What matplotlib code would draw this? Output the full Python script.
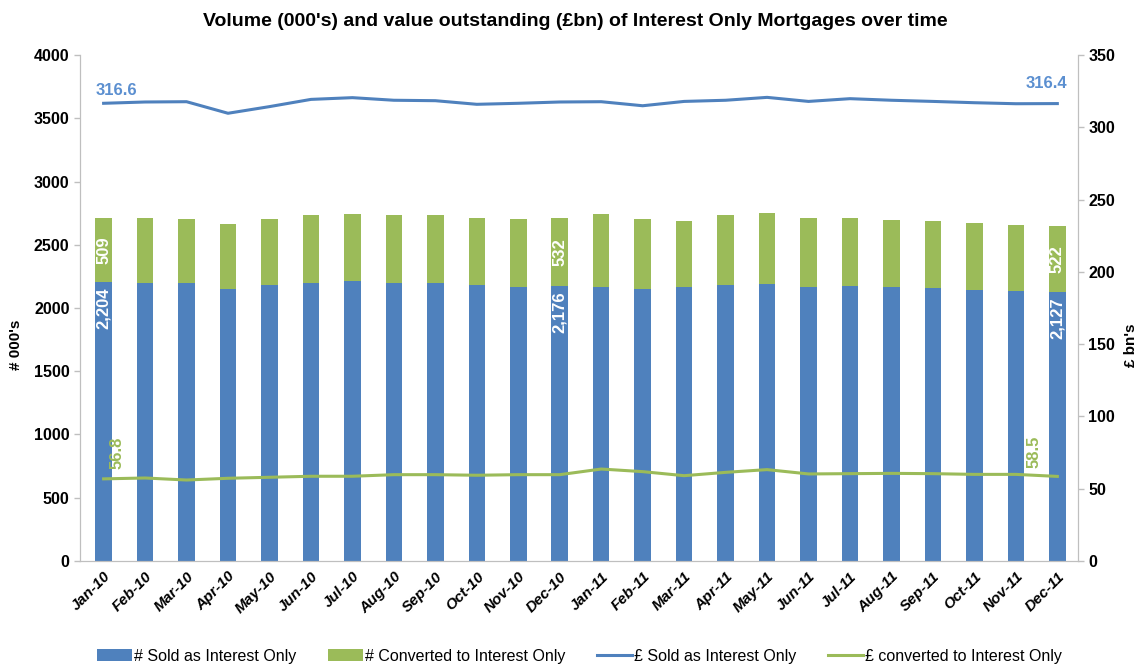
import numpy as np
import matplotlib
matplotlib.use('Agg')
import matplotlib.pyplot as plt

plt.rcParams['font.family'] = ['Liberation Sans', 'DejaVu Sans']

## datos
meses = ['Jan-10', 'Feb-10', 'Mar-10', 'Apr-10', 'May-10', 'Jun-10', 'Jul-10', 'Aug-10',
         'Sep-10', 'Oct-10', 'Nov-10', 'Dec-10', 'Jan-11', 'Feb-11', 'Mar-11', 'Apr-11',
         'May-11', 'Jun-11', 'Jul-11', 'Aug-11', 'Sep-11', 'Oct-11', 'Nov-11', 'Dec-11']
vendidos = [2204, 2200, 2200, 2148, 2182, 2200, 2216, 2200, 2195, 2182, 2169, 2176,
            2169, 2153, 2166, 2179, 2187, 2166, 2171, 2166, 2158, 2142, 2134, 2127]
convertidos = [509, 514, 506, 519, 519, 535, 527, 535, 540, 532, 535, 532,
               571, 553, 524, 554, 561, 548, 543, 532, 532, 527, 522, 522]
valor_vendidos = [316.6, 317.5, 317.7, 309.7, 314.3, 319.3, 320.5, 318.7, 318.4, 315.9, 316.6, 317.5,
                  317.7, 314.9, 317.9, 318.7, 320.7, 317.9, 319.8, 318.7, 317.9, 317.0, 316.3, 316.4]
valor_convertidos = [56.8, 57.4, 56.0, 57.2, 57.9, 58.6, 58.6, 59.7, 59.7, 59.3, 59.7, 59.7,
                     63.6, 61.8, 59.0, 61.3, 63.2, 60.2, 60.4, 60.6, 60.4, 59.9, 59.9, 58.5]

azul = '#4F81BD'
verde = '#9BBB59'
gris = '#BFBFBF'

x = np.arange(len(meses))

fig = plt.figure(figsize=(11.36, 6.66), dpi=100)
ax = fig.add_axes([0.0704, 0.1577, 0.8786, 0.7597])
ax2 = ax.twinx()

## barras apiladas
ax.bar(x, vendidos, width=0.4, color=azul, label='# Sold as Interest Only', zorder=2)
ax.bar(x, convertidos, width=0.4, bottom=vendidos, color=verde,
       label='# Converted to Interest Only', zorder=2)

## etiquetas dentro de las barras
for i in [0, 11, 23]:
    ax.annotate(f'{vendidos[i]:,}', (x[i], vendidos[i]), xytext=(0, -4), textcoords='offset points',
                rotation=90, ha='center', va='top', color='white', fontsize=12, fontweight='bold')
    ax.text(x[i], vendidos[i] + convertidos[i] / 2, str(convertidos[i]), rotation=90,
            ha='center', va='center', color='white', fontsize=12, fontweight='bold')

## lineas en el eje derecho
ax2.plot(x, valor_vendidos, color=azul, lw=2.2, label='£ Sold as Interest Only')
ax2.plot(x, valor_convertidos, color=verde, lw=2.2, label='£ converted to Interest Only')

ax2.annotate(f'{valor_vendidos[0]}', (x[0], valor_vendidos[0]), xytext=(-6, 4),
             textcoords='offset points', ha='left', va='bottom', color='#5B8FD0',
             fontsize=12, fontweight='bold')
ax2.annotate(f'{valor_vendidos[-1]}', (x[-1], valor_vendidos[-1]), xytext=(-8, 9),
             textcoords='offset points', ha='center', va='bottom', color='#5B8FD0',
             fontsize=12, fontweight='bold')
ax2.annotate(f'{valor_convertidos[0]}', (x[0], valor_convertidos[0]), xytext=(10, 7),
             textcoords='offset points', ha='center', va='bottom', rotation=90, color=verde,
             fontsize=12, fontweight='bold')
ax2.annotate(f'{valor_convertidos[-1]}', (x[-1], valor_convertidos[-1]), xytext=(-17, 6),
             textcoords='offset points', ha='center', va='bottom', rotation=90, color=verde,
             fontsize=12, fontweight='bold')

## ejes
ax.set_xlim(-0.57, 23.5)
ax.set_ylim(0, 4000)
ax2.set_ylim(0, 350)
ax.set_yticks(np.arange(0, 4001, 500))
ax2.set_yticks(np.arange(0, 351, 50))
ax.set_xticks(x)
ax.set_xticklabels(meses, rotation=45, ha='right', rotation_mode='anchor',
                   fontstyle='italic', fontweight='bold', fontsize=11)
ax.tick_params(axis='x', length=0, pad=6)

for a in [ax, ax2]:
    a.spines['top'].set_visible(False)
    for s in ['left', 'right', 'bottom']:
        a.spines[s].set_color(gris)
    a.tick_params(axis='y', colors=gris, labelcolor='black', labelsize=11.5, length=4, width=1)
for lab in ax.get_yticklabels() + ax2.get_yticklabels():
    lab.set_fontweight('bold')

ax.set_ylabel("# 000's", fontsize=11, fontweight='bold')
ax.yaxis.set_label_coords(-0.057, 0.427)
ax2.set_ylabel("£ bn's", fontsize=11, fontweight='bold')
ax2.yaxis.set_label_coords(1.046, 0.427)

fig.text(0.506, 0.968, "Volume (000's) and value outstanding (£bn) of Interest Only Mortgages over time",
         ha='center', va='center', fontsize=14, fontweight='bold')

## leyenda
h1, l1 = ax.get_legend_handles_labels()
h2, l2 = ax2.get_legend_handles_labels()
fig.legend(h1 + h2, l1 + l2, loc='lower center', bbox_to_anchor=(0.51, -0.018), ncol=4,
           frameon=False, fontsize=11.5, handlelength=2.2, handletextpad=0.1,
           columnspacing=2.0)

fig.savefig('out.png', dpi=100)
